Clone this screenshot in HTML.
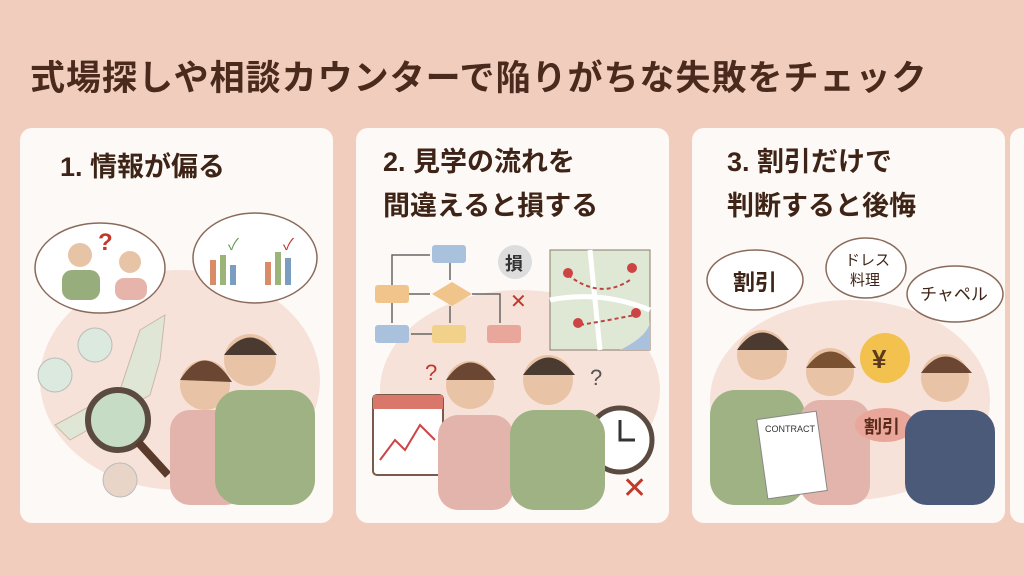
<!DOCTYPE html>
<html><head><meta charset="utf-8"><style>
body{margin:0;width:1024px;height:576px;overflow:hidden;background:#f1cdbd;font-family:"Liberation Sans","Noto Sans CJK JP",sans-serif;position:relative}
.t{position:absolute;left:30px;top:50px;font-size:35px;font-weight:bold;color:#4a2a1c;letter-spacing:1px}
.card{position:absolute;top:128px;height:395px;width:313px;background:#fdf9f6;border-radius:12px}
.h{position:absolute;font-size:27px;font-weight:bold;color:#3e2416;line-height:44px}
.a{position:absolute}
</style></head><body>
<div class="t">式場探しや相談カウンターで陥りがちな失敗をチェック</div>
<div class="card" style="left:20px"></div>
<div class="card" style="left:356px"></div>
<div class="card" style="left:692px"></div>
<div class="card" style="left:1010px;width:40px"></div>
<div class="h" style="left:60px;top:145px">1. 情報が偏る</div>
<div class="h" style="left:383px;top:140px">2. 見学の流れを<br>間違えると損する</div>
<div class="h" style="left:727px;top:140px">3. 割引だけで<br>判断すると後悔</div>
<svg class="a" style="left:0;top:0" width="1024" height="576">
<!-- card1 -->
<ellipse cx="180" cy="380" rx="140" ry="110" fill="#f7e2da"/>
<ellipse cx="100" cy="268" rx="65" ry="45" fill="#fff" stroke="#8a6a5a" stroke-width="1.5"/>
<ellipse cx="255" cy="258" rx="62" ry="45" fill="#fff" stroke="#8a6a5a" stroke-width="1.5"/>
<circle cx="80" cy="255" r="12" fill="#e8c4a6"/><rect x="62" y="270" width="38" height="30" rx="10" fill="#98ad7c"/>
<circle cx="130" cy="262" r="11" fill="#e8c4a6"/><rect x="115" y="278" width="32" height="22" rx="9" fill="#e6b4aa"/>
<text x="98" y="250" font-size="24" fill="#c0392b" font-weight="bold">?</text>
<rect x="210" y="260" width="6" height="25" fill="#d98b6a"/><rect x="220" y="255" width="6" height="30" fill="#9bb47a"/><rect x="230" y="265" width="6" height="20" fill="#7a9ec0"/>
<rect x="265" y="262" width="6" height="23" fill="#d98b6a"/><rect x="275" y="252" width="6" height="33" fill="#9bb47a"/><rect x="285" y="258" width="6" height="27" fill="#7a9ec0"/>
<text x="228" y="250" font-size="16" fill="#6a9a5a">✓</text><text x="283" y="250" font-size="16" fill="#c0392b">✓</text>
<path d="M140 330 L165 315 L160 360 L150 395 L70 440 L55 425 L120 390 Z" fill="#dfe6d6" stroke="#c9b8a8"/>
<circle cx="118" cy="420" r="30" fill="#c7dcc5" stroke="#5a4a40" stroke-width="6"/><line x1="138" y1="442" x2="168" y2="475" stroke="#5a3a2a" stroke-width="8"/>
<circle cx="55" cy="375" r="17" fill="#dbe9df" stroke="#bbb"/><circle cx="95" cy="345" r="17" fill="#dbe9df" stroke="#bbb"/><circle cx="120" cy="480" r="17" fill="#e8d5c8" stroke="#bbb"/>
<circle cx="205" cy="385" r="25" fill="#e9c3a5"/><path d="M180 380 Q205 340 232 382 Z" fill="#6b4632"/>
<rect x="170" y="410" width="75" height="95" rx="20" fill="#e3b4ac"/>
<circle cx="250" cy="360" r="26" fill="#e9c3a5"/><path d="M224 355 Q250 320 277 355 Z" fill="#4a3a30"/>
<rect x="215" y="390" width="100" height="115" rx="25" fill="#9fb283"/>
<!-- card2 -->
<ellipse cx="520" cy="390" rx="140" ry="100" fill="#f7e2da"/>
<g stroke="#666" stroke-width="1.5" fill="none">
<path d="M392 285 V255 H430"/><path d="M450 263 V280"/><path d="M409 294 H430"/><path d="M450 306 V323"/><path d="M472 294 H500 V323"/><path d="M392 303 V323"/><path d="M432 334 H411"/></g>
<rect x="432" y="245" width="34" height="18" rx="3" fill="#a9c1dc"/><rect x="375" y="285" width="34" height="18" rx="3" fill="#f0c48a"/>
<polygon points="452,282 472,294 452,306 432,294" fill="#f0c48a"/><rect x="432" y="325" width="34" height="18" rx="3" fill="#f2d28a"/>
<rect x="375" y="325" width="34" height="18" rx="3" fill="#a9c1dc"/><rect x="487" y="325" width="34" height="18" rx="3" fill="#e8a79a"/>
<text x="510" y="308" font-size="20" fill="#c0392b">✕</text>
<circle cx="515" cy="262" r="17" fill="#ddd"/><text x="505" y="270" font-size="18" font-weight="bold" fill="#333">損</text>
<rect x="550" y="250" width="100" height="100" fill="#dfe8d4" stroke="#8a7a6a"/>
<path d="M550 300 Q600 290 650 310 M590 250 L600 350" stroke="#fff" stroke-width="5" fill="none"/>
<path d="M568 275 Q600 300 630 280 M580 325 Q610 320 635 315" stroke="#b44" stroke-width="2" stroke-dasharray="4 3" fill="none"/>
<circle cx="568" cy="273" r="5" fill="#c44"/><circle cx="632" cy="268" r="5" fill="#c44"/><circle cx="578" cy="323" r="5" fill="#c44"/><circle cx="636" cy="313" r="5" fill="#c44"/>
<path d="M620 350 Q650 335 650 320 V350 Z" fill="#a9c1dc"/>
<rect x="373" y="395" width="70" height="80" rx="4" fill="#fff" stroke="#7a5a4a" stroke-width="2"/><rect x="373" y="395" width="70" height="14" fill="#d9786a"/>
<path d="M380 460 L395 440 L405 450 L420 425 L435 440" stroke="#c44" stroke-width="2" fill="none"/>
<circle cx="620" cy="440" r="32" fill="#fff" stroke="#5a4a40" stroke-width="5"/>
<path d="M620 420 V440 H635" stroke="#333" stroke-width="3" fill="none"/>
<text x="622" y="498" font-size="30" fill="#c0392b">✕</text>
<circle cx="470" cy="385" r="24" fill="#e9c3a5"/><path d="M446 380 Q470 345 496 380 Z" fill="#6b4632"/>
<rect x="438" y="415" width="75" height="95" rx="20" fill="#e3b4ac"/>
<circle cx="548" cy="380" r="25" fill="#e9c3a5"/><path d="M523 375 Q548 340 575 375 Z" fill="#4a3a30"/>
<rect x="510" y="410" width="95" height="100" rx="25" fill="#9fb283"/>
<text x="425" y="380" font-size="22" fill="#c0392b">?</text><text x="590" y="385" font-size="22" fill="#555">?</text>
<!-- card3 -->
<ellipse cx="850" cy="400" rx="140" ry="100" fill="#f7e2da"/>
<ellipse cx="755" cy="280" rx="48" ry="30" fill="#fff" stroke="#8a6a5a" stroke-width="1.5"/>
<ellipse cx="866" cy="268" rx="40" ry="30" fill="#fff" stroke="#8a6a5a" stroke-width="1.5"/>
<ellipse cx="955" cy="294" rx="48" ry="28" fill="#fff" stroke="#8a6a5a" stroke-width="1.5"/>
<text x="733" y="290" font-size="22" fill="#3e2416" font-weight="bold">割引</text>
<text x="845" y="265" font-size="15" fill="#3e2416">ドレス</text><text x="850" y="285" font-size="15" fill="#3e2416">料理</text>
<text x="920" y="300" font-size="17" fill="#3e2416">チャペル</text>
<circle cx="762" cy="355" r="25" fill="#e9c3a5"/><path d="M737 350 Q762 315 789 350 Z" fill="#4a3a30"/>
<rect x="710" y="390" width="95" height="115" rx="25" fill="#9fb283"/>
<circle cx="830" cy="372" r="24" fill="#e9c3a5"/><path d="M806 368 Q830 335 856 368 Z" fill="#7a5232"/>
<rect x="800" y="400" width="70" height="105" rx="20" fill="#e3b4ac"/>
<circle cx="885" cy="358" r="25" fill="#f2c14e"/><text x="872" y="368" font-size="26" font-weight="bold" fill="#5a3a1a">¥</text>
<ellipse cx="885" cy="425" rx="30" ry="17" fill="#e8a79a"/><text x="864" y="433" font-size="18" font-weight="bold" fill="#5a2a1a">割引</text>
<rect x="762" y="415" width="60" height="80" fill="#fff" stroke="#888" transform="rotate(-8 792 455)"/>
<text x="765" y="432" font-size="9" fill="#333">CONTRACT</text>
<circle cx="945" cy="378" r="24" fill="#e9c3a5"/><path d="M921 373 Q945 340 972 373 Z" fill="#6b4632"/>
<rect x="905" y="410" width="90" height="95" rx="22" fill="#4a5a78"/>
</svg>
</body></html>
